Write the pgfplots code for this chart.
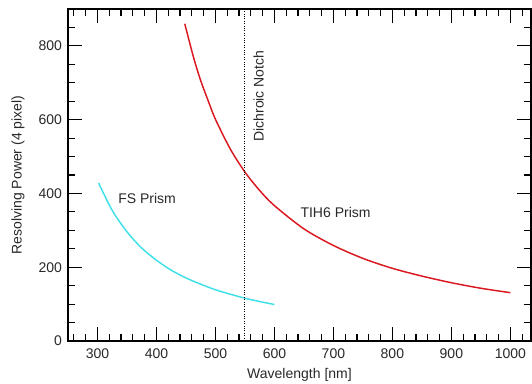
\documentclass[border=0pt]{standalone}
\usepackage{pgfplots}
\pgfplotsset{compat=1.18}
\usepackage{fontspec}
\setmainfont{Liberation Sans}
\definecolor{fscyan}{RGB}{64,224,232}
\definecolor{tihred}{RGB}{218,24,32}
\definecolor{txt}{RGB}{40,40,40}
\begin{document}
\begin{tikzpicture}
\begin{axis}[
  at={(0,0)}, anchor=south west,
  scale only axis, width=347.25pt, height=249pt,
  xmin=250, xmax=1035, ymin=0, ymax=900,
  xtick={300,400,...,1000}, ytick={0,200,...,800},
  major tick length=0pt, minor tick length=0pt,
  unbounded coords=jump,
  axis line style={line width=0.9pt},
  tick label style={font=\fontsize{10.5}{12}\selectfont, text=txt},
  xticklabel style={yshift=-2pt},
  yticklabel style={xshift=-1pt},
  /pgf/number format/assume math mode=true,
  /pgf/number format/1000 sep={},
  xlabel={Wavelength [nm]},
  ylabel={Resolving Power (4 pixel)},
  label style={font=\fontsize{10.5}{12}\selectfont, text=txt},
  xlabel style={at={(axis description cs:0.5,-0.1024)}, anchor=center},
  ylabel style={at={(axis description cs:-0.108,0.5)}, anchor=center},
]
\addplot[fscyan, line width=1.1pt, smooth] coordinates {
(302,428) (325,354) (350,296) (375,252) (400,219) (425,192) (450,171)
(475,154) (500,139) (525,127) (550,116) (575,107) (600,99)
};
\addplot[tihred, line width=1.1pt, smooth] coordinates {
(448,860) (463,768) (475,706) (488,650) (500,601) (525,521) (550,458) (575,408)
(600,367) (650,304) (700,259) (750,224) (800,197) (850,176) (900,158) (950,143) (1000,131)
};
\addplot[black, densely dotted, line width=0.8pt] coordinates {(550,0) (550,900)};
% major x ticks, bottom and top
\addplot[black, line width=0.9pt] coordinates {
(300,0) (300,37.95) (300,nan) (300,862.05) (300,900) (300,nan)
(400,0) (400,37.95) (400,nan) (400,862.05) (400,900) (400,nan)
(500,0) (500,37.95) (500,nan) (500,862.05) (500,900) (500,nan)
(600,0) (600,37.95) (600,nan) (600,862.05) (600,900) (600,nan)
(700,0) (700,37.95) (700,nan) (700,862.05) (700,900) (700,nan)
(800,0) (800,37.95) (800,nan) (800,862.05) (800,900) (800,nan)
(900,0) (900,37.95) (900,nan) (900,862.05) (900,900) (900,nan)
(1000,0) (1000,37.95) (1000,nan) (1000,862.05) (1000,900)
};
% minor x ticks, bottom and top
\addplot[black, line width=0.9pt] coordinates {
(260,0) (260,18.98) (260,nan) (260,881.02) (260,900) (260,nan)
(280,0) (280,18.98) (280,nan) (280,881.02) (280,900) (280,nan)
(320,0) (320,18.98) (320,nan) (320,881.02) (320,900) (320,nan)
(340,0) (340,18.98) (340,nan) (340,881.02) (340,900) (340,nan)
(360,0) (360,18.98) (360,nan) (360,881.02) (360,900) (360,nan)
(380,0) (380,18.98) (380,nan) (380,881.02) (380,900) (380,nan)
(420,0) (420,18.98) (420,nan) (420,881.02) (420,900) (420,nan)
(440,0) (440,18.98) (440,nan) (440,881.02) (440,900) (440,nan)
(460,0) (460,18.98) (460,nan) (460,881.02) (460,900) (460,nan)
(480,0) (480,18.98) (480,nan) (480,881.02) (480,900) (480,nan)
(520,0) (520,18.98) (520,nan) (520,881.02) (520,900) (520,nan)
(540,0) (540,18.98) (540,nan) (540,881.02) (540,900) (540,nan)
(560,0) (560,18.98) (560,nan) (560,881.02) (560,900) (560,nan)
(580,0) (580,18.98) (580,nan) (580,881.02) (580,900) (580,nan)
(620,0) (620,18.98) (620,nan) (620,881.02) (620,900) (620,nan)
(640,0) (640,18.98) (640,nan) (640,881.02) (640,900) (640,nan)
(660,0) (660,18.98) (660,nan) (660,881.02) (660,900) (660,nan)
(680,0) (680,18.98) (680,nan) (680,881.02) (680,900) (680,nan)
(720,0) (720,18.98) (720,nan) (720,881.02) (720,900) (720,nan)
(740,0) (740,18.98) (740,nan) (740,881.02) (740,900) (740,nan)
(760,0) (760,18.98) (760,nan) (760,881.02) (760,900) (760,nan)
(780,0) (780,18.98) (780,nan) (780,881.02) (780,900) (780,nan)
(820,0) (820,18.98) (820,nan) (820,881.02) (820,900) (820,nan)
(840,0) (840,18.98) (840,nan) (840,881.02) (840,900) (840,nan)
(860,0) (860,18.98) (860,nan) (860,881.02) (860,900) (860,nan)
(880,0) (880,18.98) (880,nan) (880,881.02) (880,900) (880,nan)
(920,0) (920,18.98) (920,nan) (920,881.02) (920,900) (920,nan)
(940,0) (940,18.98) (940,nan) (940,881.02) (940,900) (940,nan)
(960,0) (960,18.98) (960,nan) (960,881.02) (960,900) (960,nan)
(980,0) (980,18.98) (980,nan) (980,881.02) (980,900) (980,nan)
(1020,0) (1020,18.98) (1020,nan) (1020,881.02) (1020,900)
};
% major y ticks, left and right
\addplot[black, line width=0.9pt] coordinates {
(250,200) (273.74,200) (nan,200) (1011.26,200) (1035,200) (nan,200)
(250,400) (273.74,400) (nan,400) (1011.26,400) (1035,400) (nan,400)
(250,600) (273.74,600) (nan,600) (1011.26,600) (1035,600) (nan,600)
(250,800) (273.74,800) (nan,800) (1011.26,800) (1035,800)
};
% minor y ticks, left and right
\addplot[black, line width=0.9pt] coordinates {
(250,50) (261.87,50) (nan,50) (1023.13,50) (1035,50) (nan,50)
(250,100) (261.87,100) (nan,100) (1023.13,100) (1035,100) (nan,100)
(250,150) (261.87,150) (nan,150) (1023.13,150) (1035,150) (nan,150)
(250,250) (261.87,250) (nan,250) (1023.13,250) (1035,250) (nan,250)
(250,300) (261.87,300) (nan,300) (1023.13,300) (1035,300) (nan,300)
(250,350) (261.87,350) (nan,350) (1023.13,350) (1035,350) (nan,350)
(250,450) (261.87,450) (nan,450) (1023.13,450) (1035,450) (nan,450)
(250,500) (261.87,500) (nan,500) (1023.13,500) (1035,500) (nan,500)
(250,550) (261.87,550) (nan,550) (1023.13,550) (1035,550) (nan,550)
(250,650) (261.87,650) (nan,650) (1023.13,650) (1035,650) (nan,650)
(250,700) (261.87,700) (nan,700) (1023.13,700) (1035,700) (nan,700)
(250,750) (261.87,750) (nan,750) (1023.13,750) (1035,750) (nan,750)
(250,850) (261.87,850) (nan,850) (1023.13,850) (1035,850)
};
\node[rotate=90, font=\fontsize{10.5}{12}\selectfont, text=txt] at (axis cs:573,664) {Dichroic Notch};
\node[font=\fontsize{10.5}{12}\selectfont, text=txt] at (axis cs:384,385) {FS Prism};
\node[font=\fontsize{10.5}{12}\selectfont, text=txt] at (axis cs:703.6,349) {TIH6 Prism};
\end{axis}
\pgfresetboundingbox
\path (-51pt,-31.5pt) rectangle (348pt,255.75pt);
\end{tikzpicture}
\end{document}
